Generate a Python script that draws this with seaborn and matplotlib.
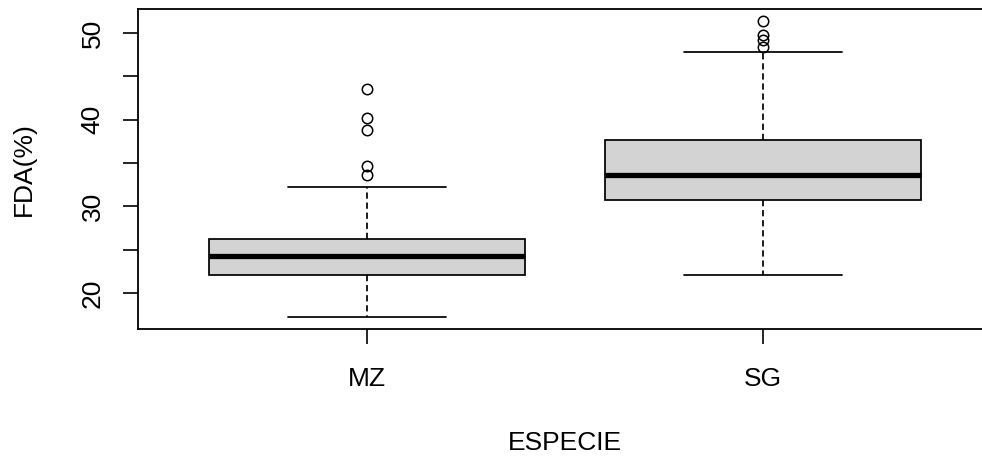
import matplotlib
matplotlib.use("Agg")
import matplotlib.pyplot as plt
import numpy as np
import pandas as pd
import seaborn as sns

# Box statistics per species (FDA %)
especies = ["MZ", "SG"]
whisker_low = [17.2, 22.1]
q1 = [22.1, 30.8]
median = [24.3, 33.65]
q3 = [26.2, 37.7]
whisker_high = [32.3, 47.8]
outliers_mz = [33.6, 34.7, 38.8, 40.2, 43.5]
outliers_sg = [48.45, 49.2, 49.8, 51.45]
outliers = [outliers_mz, outliers_sg]


def sample_from_stats(lo, a, m, b, hi, out):
    # 4k+1 observations so that the linear quartiles land exactly on a, m, b
    k = len(out) + 1
    return [lo] + [a] * k + [m] * k + [b] * k + [hi] + list(out)


rows = []
for i, sp in enumerate(especies):
    vals = sample_from_stats(whisker_low[i], q1[i], median[i], q3[i],
                             whisker_high[i], outliers[i])
    rows += [(sp, v) for v in vals]
df = pd.DataFrame(rows, columns=["ESPECIE", "FDA"])

sns.set_theme(style="white")
plt.rcParams["font.family"] = ["Liberation Sans", "DejaVu Sans"]
plt.rcParams["axes.edgecolor"] = "black"
plt.rcParams["axes.linewidth"] = 1.3

fig = plt.figure(figsize=(9.82, 4.61), dpi=100)
ax = fig.add_axes([0.1402, 0.2857, 0.8704, 0.6954])

sns.boxplot(
    data=df, x="ESPECIE", y="FDA", order=especies, ax=ax,
    color="#D3D3D3", saturation=1, width=0.8, linecolor="black",
    linewidth=1.25, whis=1.5, fliersize=7.5,
    medianprops={"linewidth": 3.8, "color": "black"},
    whiskerprops={"linestyle": (0, (3.6, 2.2))},
    flierprops={"marker": "o", "markerfacecolor": "none",
                "markeredgecolor": "black", "markeredgewidth": 1.1},
)

for side in ["top", "right", "left", "bottom"]:
    ax.spines[side].set_visible(True)
    ax.spines[side].set_color("black")

ax.set_xlim(-0.58, 1.58)
ax.margins(y=0.04)
ax.autoscale_view(scalex=False, scaley=True)

yt = [20, 25, 30, 35, 40, 45, 50]
ax.set_yticks(yt)
ax.set_yticklabels([str(t) if t % 10 == 0 else "" for t in yt])
ax.tick_params(axis="both", which="major", direction="out", length=10.8,
               width=1.2, color="black", labelsize=19, labelcolor="black",
               left=True, bottom=True)
ax.tick_params(axis="y", pad=13, labelrotation=90)
ax.tick_params(axis="x", pad=16)
for lab in ax.get_yticklabels():
    lab.set_va("center")

ax.set_xlabel("ESPECIE", fontsize=19, color="black")
ax.set_ylabel("FDA(%)", fontsize=19, color="black")
ax.xaxis.set_label_coords(0.5, -0.318)
ax.xaxis.label.set_va("top")
ax.yaxis.set_label_coords(-0.133, 0.5)
ax.yaxis.label.set_va("center")

fig.savefig("out.png", dpi=100, facecolor="white")
